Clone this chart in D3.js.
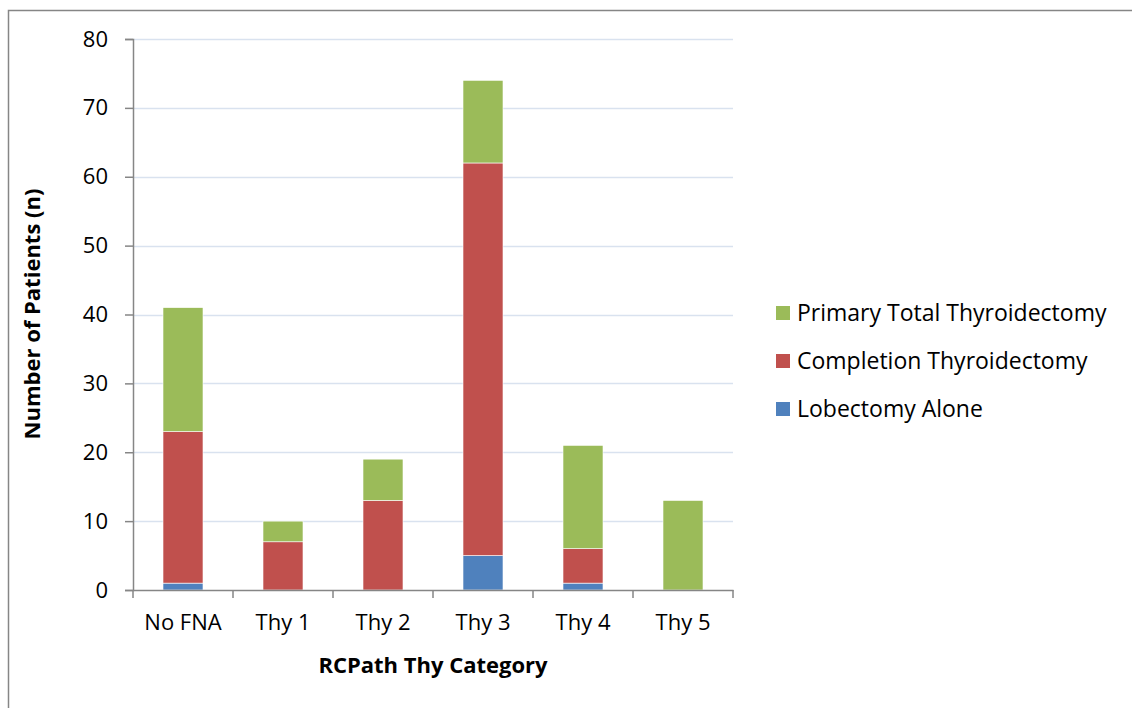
<!DOCTYPE html>
<html>
<head>
<meta charset="utf-8">
<script src="https://cdn.jsdelivr.net/npm/d3@7"></script>
<style>
  body { margin: 0; background: #fff; }
  text { font-family: "Open Sans", "Liberation Sans", sans-serif; fill: #000; }
</style>
</head>
<body>
<div id="chart"></div>
<script>
var categories = ["No FNA", "Thy 1", "Thy 2", "Thy 3", "Thy 4", "Thy 5"];
var seriesNames = ["Lobectomy Alone", "Completion Thyroidectomy", "Primary Total Thyroidectomy"];
var lobectomy = [1, 0, 0, 5, 1, 0];
var completion = [22, 7, 13, 57, 5, 0];
var primary = [18, 3, 6, 12, 15, 13];
var colors = ["#4F81BD", "#C0504D", "#9BBB59"];
var yTicks = [0, 10, 20, 30, 40, 50, 60, 70, 80];

var width = 1132, height = 708;

var svg = d3.select("#chart").append("svg")
  .attr("width", width)
  .attr("height", height);

// outer frame
svg.append("rect")
  .attr("x", 8.5).attr("y", 10.5)
  .attr("width", width + 10).attr("height", height + 10)
  .attr("fill", "none").attr("stroke", "#868686").attr("stroke-width", 1.5);

var x = d3.scaleBand().domain(categories).range([133, 733]).paddingInner(0.6).paddingOuter(0.3);
var y = d3.scaleLinear().domain([0, 80]).range([590, 39]);

var table = categories.map(function(c, i) {
  return { cat: c, lob: lobectomy[i], comp: completion[i], prim: primary[i] };
});
var stack = d3.stack().keys(["lob", "comp", "prim"])(table);

// gridlines
svg.append("g").selectAll("line").data(yTicks.slice(1)).enter().append("line")
  .attr("x1", 133).attr("x2", 733)
  .attr("y1", function(d) { return Math.round(y(d)) + 0.5; })
  .attr("y2", function(d) { return Math.round(y(d)) + 0.5; })
  .attr("stroke", "#D9E2EF").attr("stroke-width", 1.3);

// bars
svg.append("g").selectAll("g").data(stack).enter().append("g")
  .attr("fill", function(d, i) { return colors[i]; })
  .selectAll("rect").data(function(d) { return d; }).enter().append("rect")
  .attr("x", function(d) { return x(d.data.cat); })
  .attr("width", x.bandwidth())
  .attr("y", function(d) { return y(d[1]); })
  .attr("height", function(d) { return y(d[0]) - y(d[1]); })
  .attr("stroke", function(d) { return d[1] > d[0] ? "#fff" : "none"; })
  .attr("stroke-width", 0.6);

// y axis
var yAxis = d3.axisLeft(y).tickValues(yTicks).tickSize(8).tickPadding(17);
var gy = svg.append("g").attr("transform", "translate(133,0)").call(yAxis);
gy.select(".domain").attr("stroke", "#868686").attr("stroke-width", 1.5);
gy.selectAll(".tick line").attr("stroke", "#868686").attr("stroke-width", 1.5);
gy.selectAll("text").attr("font-size", 22).style("font-family", "Open Sans, sans-serif");

// x axis
var xAxis = d3.axisBottom(x).tickSize(0).tickPadding(24);
var gx = svg.append("g").attr("transform", "translate(0,590)").call(xAxis);
gx.select(".domain").attr("stroke", "#868686").attr("stroke-width", 1.5);
gx.selectAll("text").attr("font-size", 22).style("font-family", "Open Sans, sans-serif");
var bounds = [133].concat(categories.map(function(c) { return x(c) + x.bandwidth() / 2 + x.step() / 2; }));
gx.selectAll(".sep").data(bounds).enter().append("line")
  .attr("x1", function(d) { return d; }).attr("x2", function(d) { return d; })
  .attr("y1", 0).attr("y2", 8)
  .attr("stroke", "#868686").attr("stroke-width", 1.5);

// axis titles
svg.append("text")
  .attr("x", 433).attr("y", 673)
  .attr("text-anchor", "middle")
  .attr("font-size", 22).attr("font-weight", "bold")
  .text("RCPath Thy Category");

svg.append("text")
  .attr("transform", "translate(40,314)rotate(-90)")
  .attr("text-anchor", "middle")
  .attr("font-size", 22).attr("font-weight", "bold")
  .text("Number of Patients (n)");

// legend (top to bottom: reversed)
var legend = svg.append("g").selectAll("g").data([2, 1, 0]).enter().append("g")
  .attr("transform", function(d, i) { return "translate(776," + (306 + i * 48) + ")"; });
legend.append("rect").attr("width", 14).attr("height", 14)
  .attr("fill", function(d) { return colors[d]; });
legend.append("text").attr("x", 21).attr("y", 7).attr("dy", "0.35em")
  .attr("font-size", 23)
  .text(function(d) { return seriesNames[d]; });
</script>
</body>
</html>
